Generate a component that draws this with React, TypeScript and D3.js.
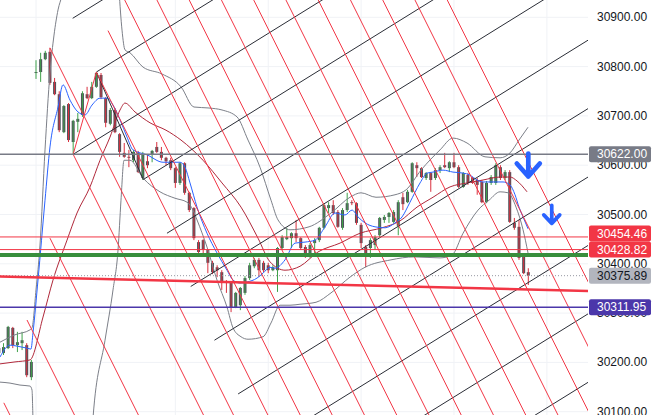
import React, { useEffect } from "react";
import * as d3 from "d3";

const W = 654;
const H = 415;
const PANE_RIGHT = 588;

// ---- candles (index 0..114; index 8 = first bar after the gap) ----
const OPEN = [30219,30219,30229,30270,30235,30239,30235,30170,
30787,30789,30815,30830,30769,30744,30667,30724,30647,30688,
30702,30744,30736,30759,30783,30736,30684,30712,30663,30625,
30617,30610,30625,30574,30608,30621,30637,30627,30615,30610,
30594,30564,30604,30544,30513,30444,30448,30428,30402,30393,
30383,30363,30363,30312,30316,30341,30371,30395,30408,30402,
30397,30387,30387,30432,30450,30452,30462,30452,30434,30414,
30442,30448,30473,30513,30519,30505,30473,30509,30525,30523,
30479,30434,30432,30438,30458,30489,30495,30485,30477,30535,
30525,30546,30600,30594,30574,30584,30574,30590,30600,30594,
30606,30596,30556,30580,30574,30570,30566,30525,30564,30564,
30596,30574,30586,30483,30475,30414,30383];
const HIGH = [30235,30239,30274,30272,30262,30262,30239,30205,
30813,30828,30832,30838,30777,30750,30722,30726,30692,30706,
30750,30759,30769,30789,30787,30738,30716,30716,30665,30645,
30631,30631,30629,30627,30621,30631,30647,30637,30617,30615,
30596,30606,30606,30546,30515,30448,30450,30430,30406,30397,
30387,30367,30365,30343,30353,30375,30402,30412,30412,30406,
30402,30397,30434,30458,30473,30464,30489,30454,30438,30442,
30452,30475,30523,30525,30529,30509,30513,30544,30529,30525,
30483,30438,30452,30458,30495,30499,30505,30509,30529,30544,
30550,30606,30606,30596,30586,30586,30594,30600,30625,30608,
30625,30600,30586,30584,30576,30574,30570,30568,30580,30604,
30600,30590,30590,30493,30489,30416,30391];
const LOW = [30213,30215,30227,30229,30221,30225,30170,30164,
30775,30769,30813,30763,30742,30667,30665,30647,30622,30667,
30698,30734,30734,30757,30734,30677,30681,30665,30617,30615,
30596,30606,30584,30570,30594,30606,30625,30610,30600,30590,
30554,30560,30540,30505,30448,30418,30418,30381,30379,30373,
30347,30341,30302,30310,30306,30337,30367,30391,30373,30383,
30381,30385,30343,30428,30448,30432,30444,30428,30412,30412,
30418,30444,30470,30503,30499,30473,30469,30505,30519,30479,
30432,30393,30412,30428,30454,30483,30483,30483,30458,30509,
30523,30544,30576,30574,30570,30546,30570,30584,30594,30586,
30594,30554,30554,30560,30562,30540,30523,30523,30560,30560,
30570,30570,30483,30469,30408,30379,30357];
const CLOSE = [30229,30231,30272,30235,30241,30245,30174,30201,
30789,30815,30828,30767,30744,30671,30720,30651,30690,30694,
30746,30736,30759,30787,30738,30686,30712,30667,30627,30617,
30615,30627,30586,30621,30600,30629,30627,30615,30608,30594,
30564,30604,30544,30509,30452,30424,30428,30402,30383,30387,
30361,30361,30312,30341,30351,30371,30397,30408,30387,30387,
30387,30393,30432,30454,30454,30462,30452,30432,30414,30438,
30448,30473,30519,30519,30503,30475,30509,30523,30523,30483,
30442,30418,30448,30454,30493,30495,30503,30505,30525,30521,
30546,30604,30594,30576,30584,30570,30590,30596,30596,30606,
30596,30556,30584,30564,30564,30560,30525,30564,30576,30600,
30574,30586,30485,30473,30412,30381,30375.89];

// ---- indicators, read as [bar index, price] ----
const FAST_MA: [number, number][] = [[0.25,30211],[2.4,30235],[3.91,30233],[6.06,30229],[6.92,30227],[7.35,30260],[8.43,30367],[9.94,30529],[11.01,30637],[12.74,30718],[13.81,30763],[15.32,30732],[17.04,30708],[18.55,30702],[20.06,30722],[21.78,30736],[23.29,30736],[24.58,30722],[26.09,30692],[27.6,30657],[28.89,30631],[31.9,30621],[35.35,30606],[39.01,30606],[40.08,30596],[41.16,30564],[42.67,30515],[44.82,30462],[46.97,30422],[49.13,30387],[50.42,30367],[51.93,30361],[53.43,30363],[55.59,30371],[56.88,30381],[58.39,30393],[59.46,30391],[61.62,30408],[63.77,30442],[65.92,30444],[68.08,30448],[70.23,30475],[72.38,30503],[74.54,30499],[76.04,30509],[77.34,30495],[78.84,30483],[80.99,30475],[83.15,30473],[85.3,30483],[86.81,30495],[88.53,30525],[90.69,30564],[92.2,30584],[93.49,30586],[95.64,30590],[97.79,30586],[99.95,30584],[101.45,30580],[102.96,30570],[104.25,30566],[106.41,30566],[108.56,30566],[110.07,30560],[111.14,30540],[112.0,30515],[112.87,30495],[113.94,30471]];
const BASIS: [number, number][] = [[0.25,30197],[3.48,30201],[6.71,30205],[9.51,30292],[11.66,30367],[14.68,30448],[16.83,30503],[19.63,30556],[21.78,30610],[23.93,30657],[26.09,30712],[27.16,30726],[29.32,30708],[32.55,30686],[35.99,30671],[39.22,30651],[43.96,30610],[48.05,30564],[52.14,30515],[55.8,30452],[58.39,30404],[61.62,30387],[64.85,30395],[68.72,30424],[73.46,30442],[77.77,30462],[82.5,30473],[86.38,30487],[90.04,30515],[93.49,30535],[97.15,30556],[100.81,30564],[104.25,30570],[107.92,30576],[110.07,30576],[111.58,30568],[113.73,30546]];
const UPPER_A: [number, number][] = [[0.25,30241],[3.48,30256],[6.71,30266],[7.14,30270],[8.0,30347],[8.86,30438],[9.94,30631],[11.01,30787],[11.88,30864],[12.74,30915],[13.6,30945],[14.03,30966]];
const UPPER_B: [number, number][] = [[25.87,30955],[26.52,30874],[27.16,30834],[28.24,30828],[31.04,30799],[35.13,30785],[39.22,30759],[42.02,30718],[45.25,30716],[48.05,30712],[51.28,30698],[53.65,30651],[56.23,30596],[58.6,30529],[60.11,30489],[62.69,30469],[66.79,30475],[71.52,30503],[75.61,30535],[77.98,30544],[81.21,30535],[85.3,30540],[87.67,30550],[90.9,30590],[94.99,30631],[97.79,30655],[100.81,30645],[104.68,30617],[107.92,30615],[110.07,30625],[112.0,30651],[113.94,30677]];
const LOWER_A: [number, number][] = [[0.25,30160],[2.4,30158],[4.55,30154],[6.71,30152],[7.14,30144],[7.35,30083],[7.46,30043]];
const LOWER_B: [number, number][] = [[20.06,30043],[20.27,30087],[22.86,30245],[24.58,30347],[25.66,30428],[26.3,30529],[26.95,30610],[28.24,30610],[31.04,30574],[34.7,30546],[37.93,30533],[40.51,30525],[41.8,30509],[42.67,30489],[44.82,30434],[46.97,30367],[49.13,30312],[50.42,30270],[52.14,30252],[53.65,30247],[56.88,30252],[58.6,30280],[60.54,30316],[62.69,30316],[64.85,30318],[68.29,30322],[71.52,30341],[75.61,30373],[78.84,30393],[84.44,30408],[89.4,30414],[94.99,30412],[97.58,30418],[99.95,30462],[103.18,30509],[105.55,30529],[107.92,30546],[109.64,30544],[111.36,30515],[112.87,30469],[113.94,30422]];

// ---- drawings ----
const BLACK_SLOPE = 5.84;   // price per bar
const RED_SLOPE = -18.84;   // price per bar
const BLACK_ANCHORS: [number, number][] = [[15.9,30898],[21,30789],[16,30622],[31.1,30571],[36.2,30462],[41.31,30354],[46.42,30245],[51.52,30136],[56.62,30027],[61.72,29918],[66.83,29809]];
const RED_ANCHORS: [number, number][] = [[1.07,30118],[6.06,30286],[11.01,30452],[16,30622],[11,30838],[21,30789],[23.5,30873],[27.1,30935],[34.04,30935],[40.99,30935],[47.93,30935],[54.88,30935],[61.82,30935],[68.77,30935],[75.71,30935],[82.66,30935],[89.6,30935],[96.55,30935]];
const RED_LINK: [number, number][] = [[16,30622],[21,30789]];
const BLACK_LINK: [number, number][] = [[21,30789],[31.1,30571]];
const TREND: [number, number][] = [[0.25,30374],[126.6,30345]];
const GREEN_LEVEL = 30418;
const LEVELS = [
  { price: 30622, text: "30622.00", kind: "gray" },
  { price: 30454.46, text: "30454.46", kind: "red" },
  { price: 30428.82, text: "30428.82", kind: "red" },
  { price: 30375.89, text: "30375.89", kind: "last" },
  { price: 30311.95, text: "30311.95", kind: "purple" },
];
const ARROWS = [
  { g: 114, price: 30577, big: true },
  { g: 119.05, price: 30482, big: false },
];
const PRICE_TICKS = [30100, 30200, 30300, 30400, 30500, 30600, 30700, 30800, 30900];
const TIME_GRID = [8, 38, 58, 78, 98, 118];

const STYLE: Record<string, { line: string; bg: string; fg: string; w: number; dash?: string }> = {
  gray: { line: "#787b86", bg: "#787b86", fg: "#ffffff", w: 1.5 },
  red: { line: "#f23645", bg: "#f23645", fg: "#ffffff", w: 1 },
  last: { line: "#9598a1", bg: "#b2b5be", fg: "#131722", w: 1, dash: "1 2" },
  purple: { line: "#4b37aa", bg: "#4b37aa", fg: "#ffffff", w: 1.5 },
};

const FONT = "'Liberation Sans', Arial, sans-serif";

export default function App() {
  useEffect(() => {
    document.body.style.margin = "0";
  }, []);

  const x = d3.scaleLinear().domain([0, 114]).range([-1.15, 528.3]);
  const y = d3.scaleLinear().domain([30100, 30900]).range([411.7, 17.3]);
  const gRight = x.invert(PANE_RIGHT + 2);

  const curve = d3
    .line<[number, number]>()
    .x((d) => x(d[0]))
    .y((d) => y(d[1]))
    .curve(d3.curveMonotoneX);
  const straight = d3
    .line<[number, number]>()
    .x((d) => x(d[0]))
    .y((d) => y(d[1]));

  const ray = (a: [number, number], slope: number) =>
    straight([a, [gRight, a[1] + slope * (gRight - a[0])]]) as string;

  // price labels with overlap resolution
  const LH = 16;
  const labels = LEVELS.map((l) => ({ ...l, cy: y(l.price) })).sort((a, b) => b.cy - a.cy);
  for (let i = 1; i < labels.length; i++) {
    const below = labels[i - 1];
    if (labels[i].cy + LH / 2 > below.cy - LH / 2) labels[i].cy = below.cy - LH;
  }

  const bodyW = 3;

  return (
    <div style={{ position: "absolute", left: 0, top: 0, width: W, height: H }}>
      <svg width={W} height={H} style={{ display: "block", background: "#ffffff" }}>
        <defs>
          <clipPath id="pane">
            <rect x={0} y={0} width={PANE_RIGHT} height={H} />
          </clipPath>
        </defs>

        <g clipPath="url(#pane)">
          {/* grid */}
          {PRICE_TICKS.map((p) => (
            <line key={"h" + p} x1={0} x2={PANE_RIGHT} y1={y(p)} y2={y(p)} stroke="#f0f2f6" strokeWidth={1} />
          ))}
          {TIME_GRID.map((g) => (
            <line key={"v" + g} x1={x(g)} x2={x(g)} y1={0} y2={H} stroke="#f0f2f6" strokeWidth={1} />
          ))}

          {/* candles */}
          {OPEN.map((o, i) => {
            const c = CLOSE[i];
            const up = c >= o;
            const cx = x(i);
            const top = y(Math.max(o, c));
            const bot = y(Math.min(o, c));
            return (
              <g key={"c" + i}>
                <rect x={cx - bodyW / 2} y={top} width={bodyW} height={Math.max(1, bot - top)} fill="#50535c" />
                <line
                  x1={cx}
                  x2={cx}
                  y1={y(HIGH[i])}
                  y2={y(LOW[i])}
                  stroke={up ? "#3fa14a" : "#d9303e"}
                  strokeWidth={1}
                />
              </g>
            );
          })}

          {/* indicators */}
          {[UPPER_A, UPPER_B, LOWER_A, LOWER_B].map((pts, i) => (
            <path key={"bb" + i} d={curve(pts) as string} fill="none" stroke="#7c7f88" strokeWidth={1} />
          ))}
          <path d={curve(BASIS) as string} fill="none" stroke="#b0283a" strokeWidth={1} />
          <path d={curve(FAST_MA) as string} fill="none" stroke="#2962ff" strokeWidth={1} />

          {/* grid drawings */}
          {BLACK_ANCHORS.map((a, i) => (
            <path key={"bk" + i} d={ray(a, BLACK_SLOPE)} stroke="#2a2d36" strokeWidth={1} fill="none" />
          ))}
          <path d={straight(BLACK_LINK) as string} stroke="#2a2d36" strokeWidth={1} fill="none" />
          {RED_ANCHORS.map((a, i) => (
            <path key={"rd" + i} d={ray(a, RED_SLOPE)} stroke="#f23645" strokeWidth={1} fill="none" />
          ))}
          <path d={straight(RED_LINK) as string} stroke="#f23645" strokeWidth={1} fill="none" />

          {/* horizontal levels */}
          <line x1={0} x2={PANE_RIGHT} y1={y(GREEN_LEVEL)} y2={y(GREEN_LEVEL)} stroke="#388e3c" strokeWidth={4} />
          {LEVELS.map((l) => {
            const s = STYLE[l.kind];
            return (
              <line
                key={"lv" + l.text}
                x1={0}
                x2={PANE_RIGHT}
                y1={y(l.price)}
                y2={y(l.price)}
                stroke={s.line}
                strokeWidth={s.w}
                strokeDasharray={s.dash}
              />
            );
          })}
          <path
            d={straight([TREND[0], [gRight, TREND[0][1] + ((TREND[1][1] - TREND[0][1]) / (TREND[1][0] - TREND[0][0])) * (gRight - TREND[0][0])]]) as string}
            stroke="#f23645"
            strokeWidth={2.5}
            fill="none"
          />

          {/* arrows */}
          {ARROWS.map((a, i) => {
            const tx = x(a.g);
            const ty = y(a.price);
            const stem = a.big ? 23 : 18;
            const hw = a.big ? 11.5 : 8;
            const hh = a.big ? 13 : 8.5;
            return (
              <path
                key={"ar" + i}
                d={`M${tx},${ty - stem}L${tx},${ty}M${tx - hw},${ty - hh}L${tx},${ty}L${tx + hw},${ty - hh}`}
                stroke="#2962ff"
                strokeWidth={a.big ? 4.7 : 3.7}
                strokeLinecap="round"
                strokeLinejoin="round"
                fill="none"
              />
            );
          })}
        </g>

        {/* price axis */}
        <rect x={PANE_RIGHT} y={0} width={W - PANE_RIGHT} height={H} fill="#ffffff" />
        {PRICE_TICKS.map((p) => (
          <text
            key={"t" + p}
            x={597}
            y={y(p)}
            dominantBaseline="central"
            fontFamily={FONT}
            fontSize={12}
            fill="#131722"
          >
            {p.toFixed(2)}
          </text>
        ))}
        {labels.map((l) => {
          const s = STYLE[l.kind];
          return (
            <g key={"lb" + l.text}>
              <rect x={PANE_RIGHT + 1} y={l.cy - LH / 2} width={62} height={LH} rx={2} fill={s.bg} />
              <text x={597} y={l.cy} dominantBaseline="central" fontFamily={FONT} fontSize={12} fill={s.fg}>
                {l.text}
              </text>
            </g>
          );
        })}
      </svg>
    </div>
  );
}
